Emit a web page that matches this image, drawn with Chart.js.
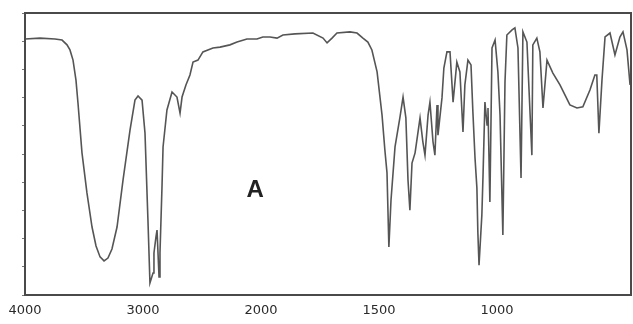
<!DOCTYPE html>
<html>
<head>
<meta charset="utf-8">
<script src="https://cdn.jsdelivr.net/npm/chart.js@4"></script>
<style>
    html, body { margin: 0; padding: 0; background: #fff; }
</style>
</head>
<body>
<canvas id="ir" width="633" height="324"></canvas>
<script>
// wavenumbers (cm-1) and %T
const wavenumbers = [
    4000, 3873, 3746, 3686, 3644, 3619, 3593, 3568, 3551, 3517, 3475, 3432, 3398, 3364, 3330, 3297,
    3263, 3220, 3169, 3110, 3068, 3042, 3008, 2983, 2958, 2941, 2915, 2907, 2890, 2881, 2864, 2856,
    2839, 2830, 2797, 2754, 2712, 2686, 2669, 2636, 2602, 2576, 2534, 2492, 2407, 2347, 2263, 2203,
    2119, 2034, 1992, 1962, 1932, 1907, 1856, 1780, 1737, 1720, 1699, 1678, 1623, 1593, 1568, 1547,
    1530, 1508, 1487, 1475, 1466, 1458, 1449, 1432, 1411, 1398, 1386, 1377, 1369, 1360, 1347, 1326,
    1314, 1305, 1292, 1284, 1271, 1263, 1254, 1250, 1233, 1225, 1212, 1199, 1186, 1170, 1157, 1144,
    1136, 1123, 1110, 1102, 1093, 1085, 1081, 1076, 1064, 1059, 1051, 1042, 1038, 1030, 1021, 1008,
    996, 987, 975, 966, 958, 936, 924, 911, 898, 890, 873, 852, 848, 831, 818, 805,
    788, 763, 733, 691, 661, 636, 606, 585, 577, 568, 555, 542, 521, 500, 479, 466,
    449, 436
];
const transmittance = [
    90.8, 91.1, 90.8, 90.4, 88.7, 86.9, 83.3, 76.2, 68.1, 50.4, 36.2, 24.1, 17.4, 13.5, 12.1, 13.1,
    16.3, 24.1, 40.8, 58.5, 69.1, 70.6, 69.1, 57.4, 26.6, 4.3, 7.8, 14.9, 20.6, 23.0, 6.4, 14.9,
    38.3, 52.5, 65.6, 72.0, 70.2, 64.5, 70.2, 74.5, 78.0, 82.6, 83.3, 86.2, 87.6, 87.9, 88.7, 89.7,
    90.8, 90.8, 91.5, 91.5, 91.1, 92.2, 92.6, 92.9, 91.1, 89.4, 91.1, 92.9, 93.3, 92.9, 91.1, 89.7,
    86.9, 79.1, 63.8, 51.4, 43.3, 17.0, 33.7, 52.5, 63.1, 70.2, 62.8, 40.8, 30.1, 46.8, 50.4, 62.8,
    54.3, 49.6, 63.8, 68.4, 54.3, 49.6, 67.4, 56.7, 69.9, 80.5, 86.2, 86.2, 68.4, 82.6, 79.1, 57.8,
    74.5, 83.3, 81.6, 64.9, 48.6, 37.9, 22.3, 10.6, 28.4, 42.6, 68.4, 60.3, 66.3, 33.0, 87.6, 90.4,
    79.1, 63.8, 21.3, 75.5, 92.2, 94.0, 94.7, 87.6, 41.5, 93.3, 89.7, 49.6, 88.7, 91.1, 86.2, 66.3,
    83.3, 78.7, 74.5, 67.4, 66.3, 66.7, 72.7, 78.0, 78.0, 57.4, 76.2, 91.5, 92.9, 85.1, 91.5, 93.3,
    86.9, 74.5
];
const tickWavenumbers = [4000, 3000, 2000, 1500, 1000];
const lowestWavenumber = 432;
const peakLabel = 'A';
const peakLabelAt = { wn: 2050, t: 37 };

// scale changes at 2000 cm-1 (double expansion below)
function toAxis(wn) {
    return wn >= 2000 ? (4000 - wn) / 1000 : 2 + (2000 - wn) / 500;
}
function fromAxis(u) {
    return u <= 2 ? 4000 - u * 1000 : 2000 - (u - 2) * 500;
}

const framePlugin = {
    id: 'frame',
    afterDraw(chart) {
        const { ctx, chartArea: a, scales } = chart;
        ctx.save();
        ctx.strokeStyle = '#4a4a4a';
        ctx.lineWidth = 2;
        ctx.strokeRect(a.left, a.top, a.right - a.left, a.bottom - a.top);
        ctx.font = 'bold 24px "Liberation Sans", Arial, sans-serif';
        ctx.fillStyle = '#222';
        ctx.textAlign = 'center';
        ctx.textBaseline = 'middle';
        ctx.fillText(peakLabel, scales.x.getPixelForValue(toAxis(peakLabelAt.wn)), scales.y.getPixelForValue(peakLabelAt.t));
        ctx.restore();
    }
};

const points = wavenumbers.map((wn, i) => ({ x: toAxis(wn), y: transmittance[i] }));

new Chart(document.getElementById('ir'), {
    type: 'line',
    data: {
        datasets: [{
            data: points,
            borderColor: '#555',
            borderWidth: 1.6,
            pointRadius: 0,
            tension: 0,
            fill: false
        }]
    },
    options: {
        responsive: false,
        animation: false,
        layout: { padding: { top: 13, right: 2, left: 0, bottom: 0 } },
        plugins: {
            legend: { display: false },
            tooltip: { enabled: false }
        },
        scales: {
            x: {
                type: 'linear',
                min: 0,
                max: toAxis(lowestWavenumber),
                afterBuildTicks: scale => {
                    scale.ticks = tickWavenumbers.map(w => ({ value: toAxis(w) }));
                },
                ticks: {
                    callback: v => String(Math.round(fromAxis(v))),
                    color: '#2a2a2a',
                    font: { family: '"DejaVu Sans", sans-serif', size: 13 },
                    padding: 8,
                    maxRotation: 0,
                    autoSkip: false
                },
                grid: { display: false, drawTicks: false },
                border: { display: false },
                afterFit: scale => { scale.height = 29; }
            },
            y: {
                min: 0,
                max: 100,
                afterBuildTicks: scale => {
                    const t = [];
                    for (let v = 0; v <= 100; v += 10) t.push({ value: v });
                    scale.ticks = t;
                },
                ticks: { display: false },
                grid: { drawOnChartArea: false, drawTicks: true, tickLength: 3, color: '#777' },
                border: { display: false },
                afterFit: scale => { scale.width = 25; }
            }
        }
    },
    plugins: [framePlugin]
});
</script>
</body>
</html>
